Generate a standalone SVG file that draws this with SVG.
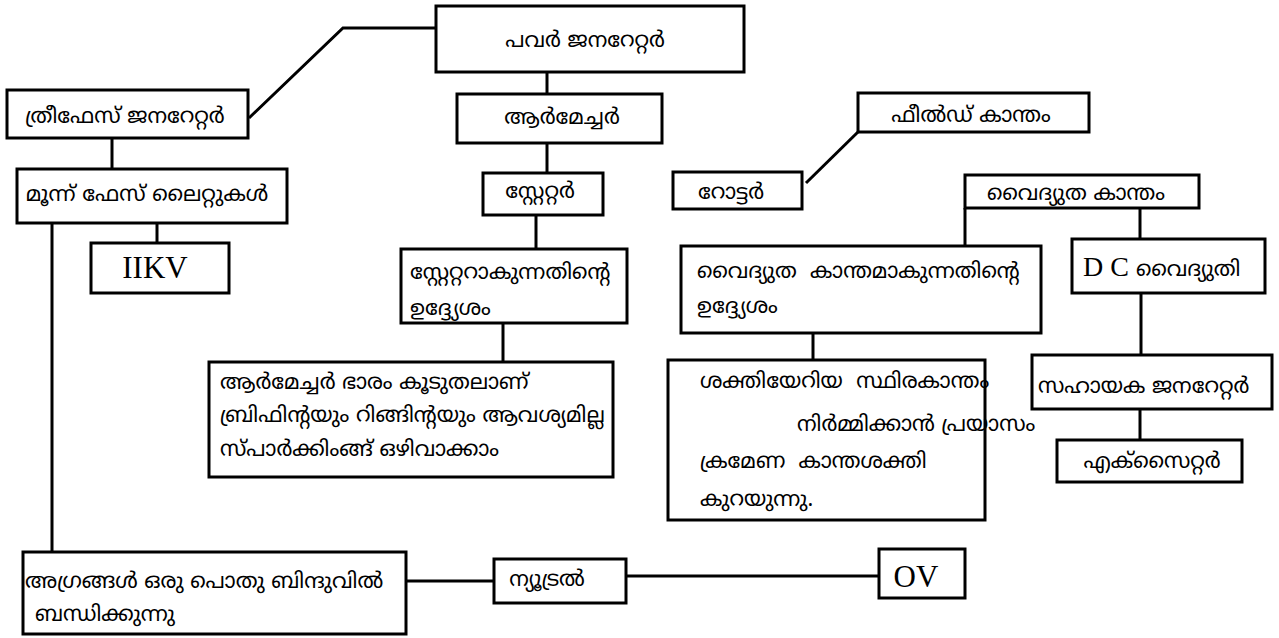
<svg xmlns="http://www.w3.org/2000/svg" width="1279" height="638" viewBox="0 0 1279 638">
<style>
rect{fill:#fff;stroke:#000;stroke-width:3}
.c line,.c polyline{stroke:#000;stroke-width:3;fill:none}
.m{font-family:"Noto Sans Malayalam","Noto Sans","Lohit Malayalam",sans-serif;font-size:21.5px;fill:#000}
.t{font-family:"Liberation Serif",serif;fill:#000}
.mid{text-anchor:middle}
.pre{white-space:pre}
</style>
<rect x="0" y="0" width="1279" height="638" style="stroke:none"/>
<g class="c" id="connectors">
<polyline points="249,118 343,28 436,28"/>
<line x1="112" y1="138" x2="112" y2="169"/>
<line x1="157" y1="223" x2="157" y2="243"/>
<line x1="52" y1="223" x2="52" y2="557"/>
<line x1="547" y1="72" x2="547" y2="94"/>
<line x1="547" y1="143" x2="547" y2="173"/>
<line x1="536" y1="215" x2="536" y2="249"/>
<line x1="503" y1="323" x2="503" y2="362"/>
<line x1="806" y1="183" x2="860" y2="130"/>
<line x1="965" y1="208" x2="965" y2="246"/>
<line x1="1140" y1="208" x2="1140" y2="239"/>
<line x1="813" y1="333" x2="813" y2="360"/>
<line x1="1141" y1="293" x2="1141" y2="355"/>
<line x1="1140" y1="409" x2="1140" y2="440"/>
<line x1="406" y1="581" x2="493" y2="581"/>
<line x1="626" y1="576" x2="879" y2="576"/>
</g>
<g id="power-generator"><rect x="436" y="6" width="308" height="66"/><text class="m mid" x="585" y="47">പവർ ജനറേറ്റർ</text></g>
<g id="three-phase-generator"><rect x="7" y="90" width="241" height="48"/><text class="m mid" x="125" y="123">ത്രീഫേസ് ജനറേറ്റർ</text></g>
<g id="three-phase-lines"><rect x="17" y="169" width="270" height="54"/><text class="m mid" x="147" y="201">മൂന്ന് ഫേസ് ലൈറ്റുകൾ</text></g>
<g id="iikv"><rect x="91" y="243" width="138" height="50"/><text class="t mid" x="155" y="278" font-size="31">IIKV</text></g>
<g id="armature"><rect x="457" y="94" width="205" height="49"/><text class="m mid" x="562" y="124">ആർമേച്ചർ</text></g>
<g id="stator"><rect x="483" y="173" width="120" height="42"/><text class="m mid" x="540" y="198">സ്റ്റേറ്റർ</text></g>
<g id="stator-purpose"><rect x="401" y="249" width="226" height="74"/><text class="m" x="410" y="279">സ്റ്റേറ്ററാകുന്നതിന്റെ</text><text class="m" x="410" y="315">ഉദ്ദ്യേശം</text></g>
<g id="armature-notes"><rect x="209" y="362" width="404" height="115"/><text class="m" x="220" y="389">ആർമേച്ചർ ഭാരം കൂടുതലാണ്</text><text class="m" x="220" y="422">ബ്രിഫിന്റയും റിങ്ങിന്റയും ആവശ്യമില്ല</text><text class="m" x="220" y="456">സ്പാർക്കിംങ്ങ് ഒഴിവാക്കാം</text></g>
<g id="rotor"><rect x="673" y="172" width="129" height="37"/><text class="m mid" x="731" y="199">റോട്ടർ</text></g>
<g id="field-magnet"><rect x="858" y="93" width="231" height="39"/><text class="m mid" x="971" y="122">ഫീൽഡ് കാന്തം</text></g>
<g id="electromagnet"><rect x="965" y="175" width="234" height="33"/><text class="m mid" x="1076" y="200">വൈദ്യുത കാന്തം</text></g>
<g id="em-purpose"><rect x="681" y="246" width="360" height="87"/><text class="m pre" x="697" y="278">വൈദ്യുത  കാന്തമാകുന്നതിന്റെ</text><text class="m" x="697" y="313">ഉദ്ദ്യേശം</text></g>
<g id="dc"><rect x="1072" y="239" width="193" height="54"/><text x="1083" y="276"><tspan class="t" font-size="28">D C </tspan><tspan class="m"> വൈദ്യുതി</tspan></text></g>
<g id="permanent-magnet"><rect x="668" y="360" width="317" height="160"/><text class="m pre" x="700" y="388">ശക്തിയേറിയ  സ്ഥിരകാന്തം</text><text class="m" x="797" y="431">നിർമ്മിക്കാൻ പ്രയാസം</text><text class="m pre" x="700" y="468">ക്രമേണ  കാന്തശക്തി</text><text class="m" x="700" y="506">കുറയുന്നു.</text></g>
<g id="aux-generator"><rect x="1032" y="355" width="240" height="54"/><text class="m" x="1038" y="393">സഹായക ജനറേറ്റർ</text></g>
<g id="exciter"><rect x="1057" y="440" width="185" height="42"/><text class="m mid" x="1152" y="468">എക്സൈറ്റർ</text></g>
<g id="ends-joined"><rect x="23" y="552" width="383" height="82"/><text class="m" x="25" y="588">അഗ്രങ്ങൾ ഒരു പൊതു ബിന്ദുവിൽ</text><text class="m" x="35" y="621">ബന്ധിക്കുന്നു</text></g>
<g id="neutral"><rect x="494" y="559" width="132" height="44"/><text class="m mid" x="547" y="586">ന്യൂട്രൽ</text></g>
<g id="ov"><rect x="879" y="549" width="86" height="49"/><text class="t mid" x="916" y="587" font-size="31">OV</text></g>
</svg>
